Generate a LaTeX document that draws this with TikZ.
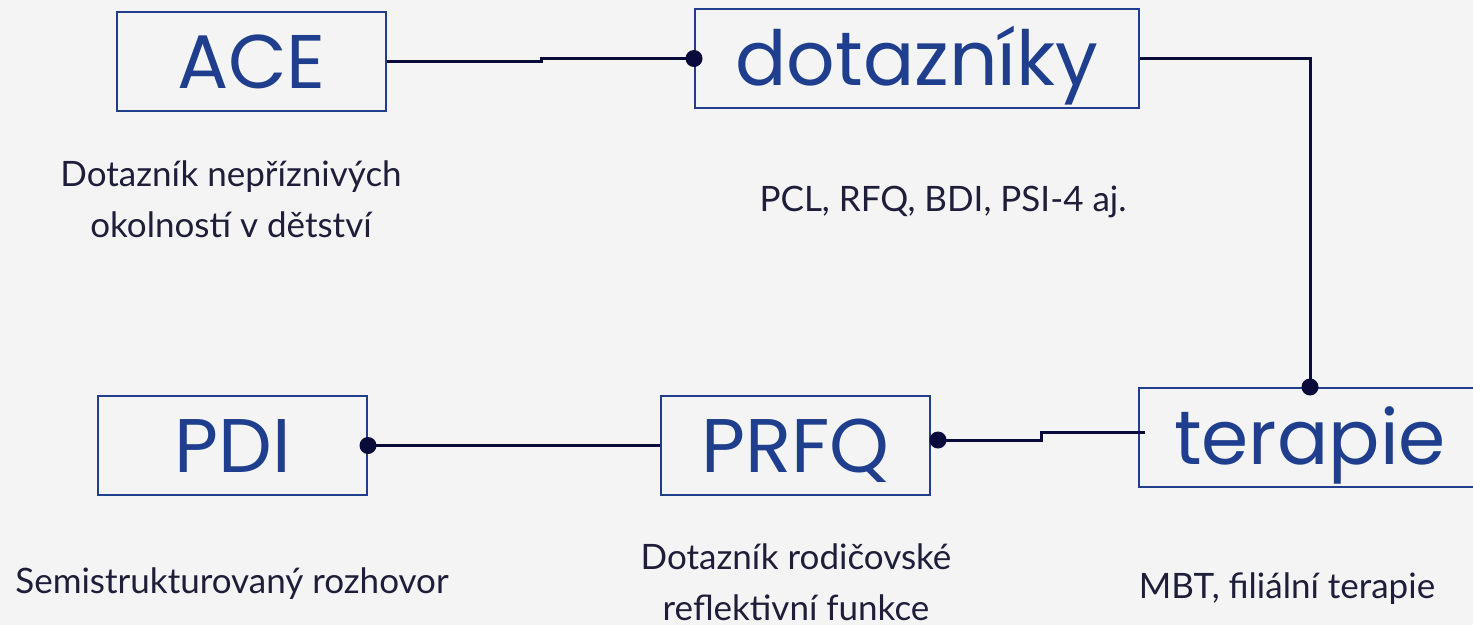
\documentclass[tikz,border=0pt]{standalone}
\usepackage{fontspec}
\setmainfont{Lato}
\newfontfamily\boxfont{Poppins}
\definecolor{boxblue}{HTML}{1F3F8E}
\definecolor{wirenavy}{HTML}{0B0B3B}
\definecolor{notegray}{HTML}{1E1E3A}
\definecolor{bggray}{HTML}{F4F4F4}
\tikzset{
	box/.style={draw=boxblue,line width=2pt,minimum height=99pt,inner sep=0pt,text=boxblue,font=\boxfont\fontsize{76}{78}\selectfont,text height=54pt,text depth=0pt},
	note/.style={text=notegray,font=\fontsize{35}{51}\selectfont,align=center},
	wire/.style={draw=wirenavy,line width=3pt},
}
\begin{document}
\begin{tikzpicture}[x=1pt,y=-1pt]
				\useasboundingbox (0,0) rectangle (1473,625);
				\fill[bggray] (0,0) rectangle (1473,625);
				\clip (0,0) rectangle (1473,625);
				% boxes
				\node[box,minimum width=269pt] (ace) at (251.5,61) {ACE};
				\node[box,minimum width=444pt] (dotaz) at (917,58.5) {dotazníky};
				\node[box,minimum width=269pt] (pdi) at (232.5,445.5) {PDI};
				\node[box,minimum width=269pt] (prfq) at (795.5,445.5) {PRFQ};
				\node[box,minimum width=342pt] (terapie) at (1310,437.5) {terapie};
				% notes
				\node[note] (acetxt) at (231,199.5) {Dotazník nepříznivých\\okolností v dětství};
				\node[note] (dotaztxt) at (943,202) {PCL, RFQ, BDI, PSI-4 aj.};
				\node[note] (pditxt) at (232,584) {Semistrukturovaný rozhovor};
				\node[note] (prfqtxt) at (796,582) {Dotazník rodičovské\\reflektivní funkce};
				\node[note] (terapietxt) at (1287,589) {MBT, filiální terapie};
				% connectors
				\draw[wire] (ace.east) -- ++(154,0) |- (dotaz.west);
				\fill[wirenavy] (dotaz.west) circle (8.5pt);
				\draw[wire] (dotaz.east) -| (terapie.north);
				\fill[wirenavy] (terapie.north) circle (8.5pt);
				\draw[wire] ([shift={(7pt,5.5pt)}]terapie.west) -- ++(-104,0) |- ([shift={(7pt,5.5pt)}]prfq.east);
				\fill[wirenavy] ([shift={(7pt,5.5pt)}]prfq.east) circle (8.5pt);
				\draw[wire] (prfq.west) -- (pdi.east);
				\fill[wirenavy] (pdi.east) circle (8.5pt);
			\end{tikzpicture}
\end{document}
